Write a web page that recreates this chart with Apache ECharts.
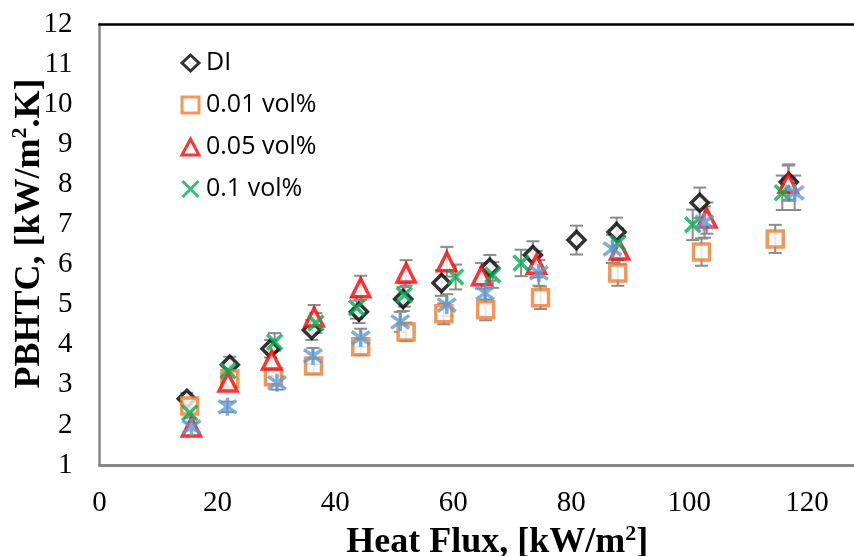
<!DOCTYPE html>
<html lang="en">
<head>
    <meta charset="utf-8">
    <title>PBHTC vs Heat Flux</title>
    <script src="https://cdn.jsdelivr.net/npm/echarts@6/dist/echarts.min.js"></script>
    <style>
        html, body { margin: 0; padding: 0; background: #fff; }
        #chart { width: 854px; height: 556px; }
    </style>
</head>
<body>
    <div id="chart"></div>
    <script>
        // legend names
        var names = ['DI', '0.01 vol%', '0.05 vol%', '0.1 vol%', 'Series 5'];

        // DI
        var xDI = [14.8, 22.1, 29.0, 36.0, 44.0, 51.5, 58.0, 66.2, 73.5, 80.9, 87.7, 101.8, 116.9];
        var yDI = [2.65, 3.5, 3.9, 4.37, 4.82, 5.14, 5.54, 5.92, 6.24, 6.61, 6.81, 7.54, 8.06];
        var eDI = [0.15, 0.2, 0.22, 0.25, 0.28, 0.3, 0.32, 0.32, 0.34, 0.36, 0.36, 0.38, 0.44];

        // 0.01 vol%
        var x001 = [15.3, 22.1, 29.5, 36.3, 44.3, 52.0, 58.4, 65.5, 74.8, 87.9, 102.1, 114.6];
        var y001 = [2.47, 3.15, 3.2, 3.47, 3.95, 4.32, 4.77, 4.87, 5.17, 5.79, 6.31, 6.64];
        var e001 = [0.13, 0.17, 0.17, 0.19, 0.21, 0.23, 0.26, 0.26, 0.28, 0.32, 0.34, 0.35];

        // 0.05 vol%
        var x005 = [15.6, 21.8, 29.2, 36.4, 44.3, 52.0, 58.9, 64.8, 74.1, 88.2, 103.0, 116.8];
        var y005 = [1.95, 3.07, 3.62, 4.69, 5.42, 5.79, 6.07, 5.72, 6.01, 6.36, 7.16, 8.03];
        var e005 = [0.1, 0.17, 0.2, 0.3, 0.3, 0.32, 0.37, 0.32, 0.33, 0.35, 0.39, 0.44];

        // 0.1 vol%
        var x01 = [15.3, 21.8, 29.7, 36.7, 43.6, 51.7, 60.4, 66.7, 71.5, 87.9, 100.6, 115.8];
        var y01 = [2.3, 3.35, 4.07, 4.54, 4.92, 5.24, 5.69, 5.74, 6.04, 6.54, 6.99, 7.79];
        var e01 = [0.12, 0.18, 0.22, 0.25, 0.27, 0.29, 0.31, 0.32, 0.33, 0.36, 0.38, 0.43];

        // blue asterisk (not in legend)
        var x5 = [15.6, 21.7, 30.1, 36.2, 44.3, 51.0, 58.9, 65.4, 74.5, 87.0, 102.6, 117.9];
        var y5 = [1.95, 2.45, 3.05, 3.72, 4.17, 4.57, 4.99, 5.29, 5.79, 6.39, 7.06, 7.79];
        var e5 = [0.1, 0.13, 0.17, 0.2, 0.23, 0.25, 0.27, 0.29, 0.32, 0.35, 0.39, 0.43];

        var serif = 'Liberation Serif';

        function pts(xs, ys) {
            return xs.map(function (x, i) { return [x, ys[i]]; });
        }
        function bars(xs, ys, es) {
            return xs.map(function (x, i) { return [x, ys[i], es[i]]; });
        }

        function renderBar(params, api) {
            var x = api.value(0), y = api.value(1), e = api.value(2);
            var top = api.coord([x, y + e]);
            var bot = api.coord([x, y - e]);
            var w = 6.5;
            var st = { stroke: '#8c8c8c', lineWidth: 2 };
            return {
                type: 'group',
                children: [
                    { type: 'line', shape: { x1: top[0], y1: top[1], x2: bot[0], y2: bot[1] }, style: st },
                    { type: 'line', shape: { x1: top[0] - w, y1: top[1], x2: top[0] + w, y2: top[1] }, style: st },
                    { type: 'line', shape: { x1: bot[0] - w, y1: bot[1], x2: bot[0] + w, y2: bot[1] }, style: st }
                ]
            };
        }

        function errSeries(xs, ys, es) {
            return {
                type: 'custom',
                renderItem: renderBar,
                data: bars(xs, ys, es),
                encode: { x: 0, y: 1 },
                z: 1,
                silent: true
            };
        }

        var xMark = 'path://M0,0L10,10M10,0L0,10';
        var starMark = 'path://M0,0L10,10M10,0L0,10M5,-2L5,12';

        option = {
            animation: false,
            grid: { left: 99.5, top: 24, bottom: 91, right: -71, containLabel: false, outerBoundsMode: 'none' },
            legend: {
                data: names.slice(0, 4),
                orient: 'vertical',
                left: 175,
                top: 43,
                itemWidth: 17,
                itemHeight: 16,
                itemGap: 12,
                itemStyle: { borderWidth: 3 },
                textStyle: { fontFamily: 'Open Sans', fontSize: 25, color: '#000', lineHeight: 30, padding: [0, 0, 0, 2] }
            },
            xAxis: [{
                type: 'value',
                min: 0,
                max: 140,
                interval: 20,
                splitLine: { show: false },
                axisTick: { show: false },
                axisLine: { lineStyle: { color: '#868686', width: 3 } },
                axisLabel: { fontFamily: serif, fontSize: 29, color: '#000', margin: 24 },
                name: 'Heat Flux, [kW/m{sup|2}]',
                nameLocation: 'middle',
                nameGap: 46,
                nameTextStyle: {
                    fontFamily: serif, fontSize: 36, fontWeight: 'bold', color: '#000',
                    padding: [0, 30, 0, 0], lineHeight: 40,
                    rich: { sup: { fontFamily: serif, fontSize: 22, fontWeight: 'bold', verticalAlign: 'top', lineHeight: 24 } }
                }
            }, {
                type: 'value',
                position: 'top',
                min: 0,
                max: 140,
                splitLine: { show: false },
                axisTick: { show: false },
                axisLabel: { show: false },
                axisLine: { lineStyle: { color: '#000', width: 2.5 } }
            }],
            yAxis: {
                type: 'value',
                min: 1,
                max: 12,
                interval: 1,
                splitLine: { show: false },
                axisTick: { show: false },
                axisLine: { show: true, lineStyle: { color: '#868686', width: 2.5 } },
                axisLabel: { fontFamily: serif, fontSize: 29, color: '#000', margin: 27 },
                name: 'PBHTC, [kW/m{sup|2}.K]',
                nameLocation: 'middle',
                nameGap: 50,
                nameMoveOverlap: false,
                nameTextStyle: {
                    fontFamily: serif, fontSize: 36, fontWeight: 'bold', color: '#000',
                    padding: [0, 0, 0, 22], lineHeight: 40,
                    rich: { sup: { fontFamily: serif, fontSize: 22, fontWeight: 'bold', verticalAlign: 'top', lineHeight: 24 } }
                }
            },
            series: [
                errSeries(xDI, yDI, eDI),
                errSeries(x001, y001, e001),
                errSeries(x005, y005, e005),
                errSeries(x01, y01, e01),
                errSeries(x5, y5, e5),
                {
                    name: names[0], type: 'scatter', data: pts(xDI, yDI),
                    symbol: 'diamond', symbolSize: 17,
                    itemStyle: { color: '#fff', borderColor: '#000', borderWidth: 3.5 }
                }, {
                    name: names[1], type: 'scatter', data: pts(x001, y001),
                    symbol: 'rect', symbolSize: 16,
                    itemStyle: { color: '#fff', borderColor: '#ED7D31', borderWidth: 3.5 }
                }, {
                    name: names[2], type: 'scatter', data: pts(x005, y005),
                    symbol: 'triangle', symbolSize: 18,
                    itemStyle: { color: '#fff', borderColor: '#FF0000', borderWidth: 3.5 }
                }, {
                    name: names[3], type: 'scatter', data: pts(x01, y01),
                    symbol: xMark, symbolSize: 15,
                    itemStyle: { color: 'none', borderColor: '#00B050', borderWidth: 3.5 }
                }, {
                    name: names[4], type: 'scatter', data: pts(x5, y5),
                    symbol: starMark, symbolSize: 18,
                    itemStyle: { color: 'none', borderColor: '#5B9BD5', borderWidth: 3.5 }
                }
            ]
        };

        var chart = echarts.init(document.getElementById('chart'));
        chart.setOption(option);
    </script>
</body>
</html>
